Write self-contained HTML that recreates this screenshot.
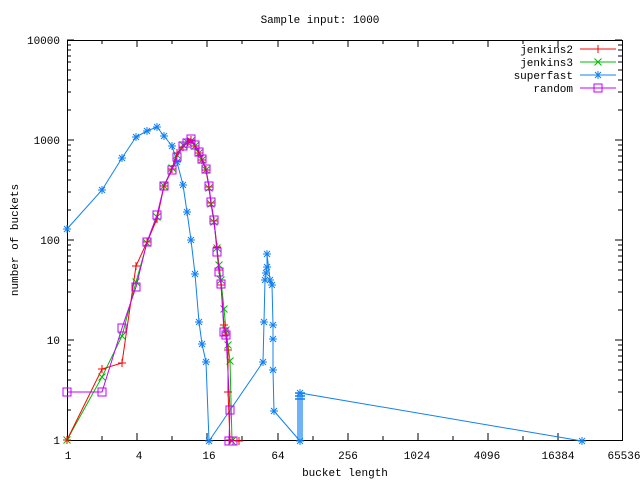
<!DOCTYPE html>
<html><head><meta charset="utf-8"><style>
html,body{margin:0;padding:0;background:#fff;}
svg{display:block;font-family:"Liberation Mono",monospace;font-size:11px;}
</style></head><body>
<svg width="640" height="480" viewBox="0 0 640 480" xmlns="http://www.w3.org/2000/svg">
<defs>
<marker id="mp" markerUnits="userSpaceOnUse" markerWidth="10" markerHeight="10" refX="5" refY="5" overflow="visible"><path d="M1,5H9M5,1V9" stroke="#f00" stroke-width="1" fill="none"/></marker>
<marker id="mx" markerUnits="userSpaceOnUse" markerWidth="10" markerHeight="10" refX="5" refY="5" overflow="visible"><path d="M1.5,1.5L8.5,8.5M8.5,1.5L1.5,8.5" stroke="#0b0" stroke-width="1" fill="none"/></marker>
<marker id="ms" markerUnits="userSpaceOnUse" markerWidth="10" markerHeight="10" refX="5" refY="5" overflow="visible"><path d="M1,5H9M5,1V9M2,2L8,8M8,2L2,8" stroke="#1180f0" stroke-width="1" fill="none"/></marker>
<marker id="mr" markerUnits="userSpaceOnUse" markerWidth="10" markerHeight="10" refX="5" refY="5" overflow="visible"><rect x="1" y="1" width="8" height="8" stroke="#c000ff" stroke-width="1" fill="none"/></marker>
</defs>
<rect x="0" y="0" width="640" height="480" fill="#fff"/>
<text x="320" y="23" text-anchor="middle">Sample input: 1000</text>
<rect x="67.5" y="40.5" width="555" height="400" fill="none" stroke="#000"/>
<g stroke="#000" fill="none">
<path d="M67,40h7M622,40h-7M67,140h7M622,140h-7M67,240h7M622,240h-7M67,340h7M622,340h-7"/>
<path d="M67,410h4M67,392h4M67,380h4M67,370h4M67,362h4M67,356h4M67,350h4M67,345h4
M67,310h4M67,292h4M67,280h4M67,270h4M67,262h4M67,256h4M67,250h4M67,245h4
M67,210h4M67,192h4M67,180h4M67,170h4M67,162h4M67,156h4M67,150h4M67,145h4
M67,110h4M67,92h4M67,80h4M67,70h4M67,62h4M67,56h4M67,50h4M67,45h4
M622,410h-4M622,392h-4M622,380h-4M622,370h-4M622,362h-4M622,356h-4M622,350h-4M622,345h-4
M622,310h-4M622,292h-4M622,280h-4M622,270h-4M622,262h-4M622,256h-4M622,250h-4M622,245h-4
M622,210h-4M622,192h-4M622,180h-4M622,170h-4M622,162h-4M622,156h-4M622,150h-4M622,145h-4
M622,110h-4M622,92h-4M622,80h-4M622,70h-4M622,62h-4M622,56h-4M622,50h-4M622,45h-4"/>
<path d="M137,440v-7M137,40v7M207,440v-7M207,40v7M278,440v-7M278,40v7M348,440v-7M348,40v7M418,440v-7M418,40v7M488,440v-7M488,40v7M558,440v-7M558,40v7
M102,440v-4M102,40v4M172,440v-4M172,40v4M242,440v-4M242,40v4M313,440v-4M313,40v4M383,440v-4M383,40v4M453,440v-4M453,40v4M523,440v-4M523,40v4"/>
</g>
<g text-anchor="end">
<text x="60" y="444">1</text><text x="60" y="344">10</text><text x="60" y="244">100</text><text x="60" y="144">1000</text><text x="60" y="44">10000</text>
</g>
<g text-anchor="middle">
<text x="68" y="459">1</text><text x="139" y="459">4</text><text x="209" y="459">16</text><text x="278" y="459">64</text><text x="348" y="459">256</text><text x="417" y="459">1024</text><text x="487" y="459">4096</text><text x="558" y="459">16384</text><text x="624" y="459">65536</text>
<text x="345" y="476">bucket length</text>
</g>
<text transform="translate(18,240) rotate(-90)" text-anchor="middle">number of buckets</text>

<polyline fill="none" stroke="#1180f0" marker-start="url(#ms)" marker-mid="url(#ms)" marker-end="url(#ms)" points="67,229 102,190 122,158 136,137 147,131 157,127 164,136 172,146 177,162 183,185 187,212 191,240 195,274 199,322 202,344 206,362 209,441 263,362 264,322 265,280 266,273 267,267 267,254 270,280 272,285 273,325 273,339 273,370 274,411 300,441 300,393 582,441"/>
<path d="M298,393v48M300,393v48M302,393v48" stroke="#1180f0" stroke-width="1.2"/>
<path d="M295,393h10M295,396h10M295,399h10" stroke="#1180f0" stroke-width="1.5"/>
<polyline fill="none" stroke="#0b0" marker-start="url(#mx)" marker-mid="url(#mx)" marker-end="url(#mx)" points="67,440 102,377 122,336 136,282 147,243 157,217 164,186 172,168 177,155 183,145 187,142 191,141 195,146 199,153 202,160 206,170 209,188 211,204 214,222 217,248 219,265 221,280 224,309 226,330 228,345 230,361 232,441"/>
<polyline fill="none" stroke="#f00" marker-start="url(#mp)" marker-mid="url(#mp)" marker-end="url(#mp)" points="67,440 102,369 122,363 136,266 147,242 157,219 164,186 172,169 177,153 183,147 188,142 191,140 195,146 199,153 202,160 206,170 209,187 211,203 214,221 217,247 219,270 221,285 224,325 226,335 228,350 228,392 230,440 239,441"/>
<polyline fill="none" stroke="#c000ff" marker-start="url(#mr)" marker-mid="url(#mr)" marker-end="url(#mr)" points="67,392 102,392 122,328 136,287 147,242 157,215 164,186 172,170 177,157 183,146 187,143 191,139 195,145 199,152 202,159 206,169 209,186 211,202 214,220 217,252 219,272 221,284 224,332 226,335 230,410 229,441 233,441"/>

<g text-anchor="end"><text x="573" y="53">jenkins2</text><text x="573" y="66">jenkins3</text><text x="573" y="79">superfast</text><text x="573" y="92">random</text></g>
<line x1="580" y1="49" x2="616" y2="49" stroke="#f00"/><path d="M598,45v8" stroke="#f00"/>
<line x1="580" y1="62" x2="616" y2="62" stroke="#0b0"/><path d="M594.5,58.5l7,7M601.5,58.5l-7,7" stroke="#0b0"/>
<line x1="580" y1="75" x2="616" y2="75" stroke="#1180f0"/><path d="M594,75h8M598,71v8M595,72l6,6M601,72l-6,6" stroke="#1180f0"/>
<line x1="580" y1="88" x2="616" y2="88" stroke="#c000ff"/><rect x="594" y="84" width="8" height="8" fill="none" stroke="#c000ff"/>
</svg>
</body></html>
